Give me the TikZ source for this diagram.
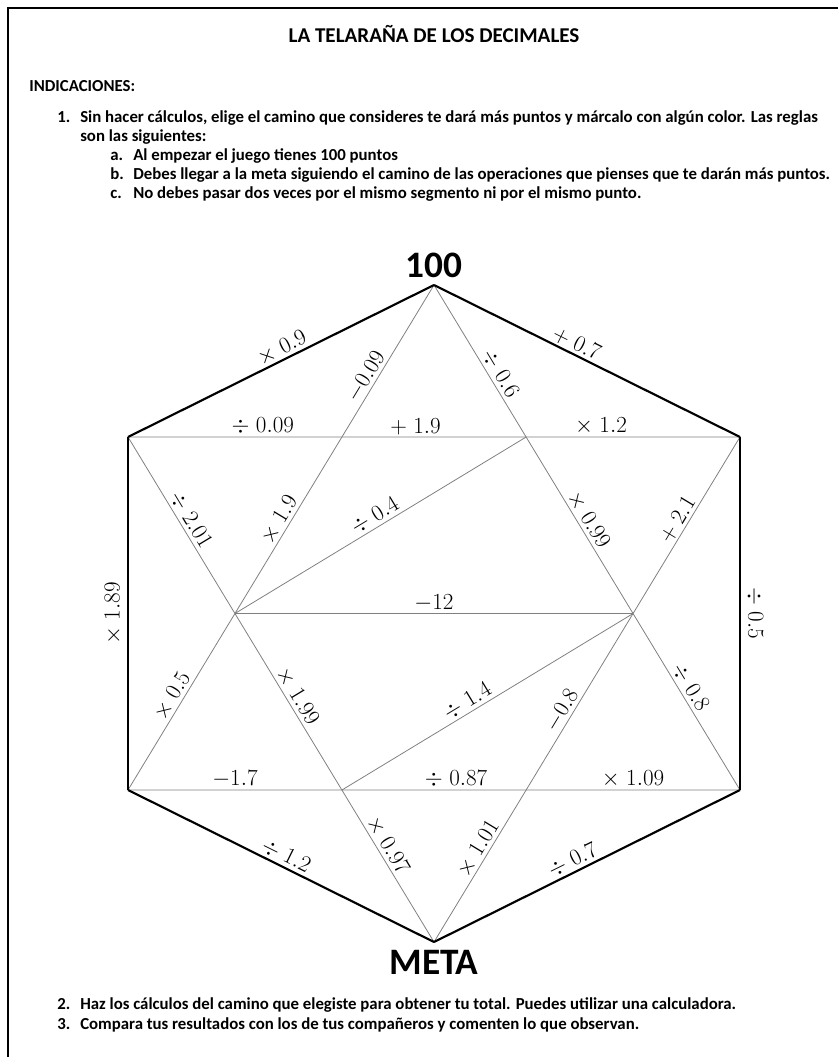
\documentclass[tikz,border=0pt]{standalone}
\usepackage{fontspec}
\newfontfamily\carlito{Carlito}
\tikzset{
  outer/.style={line width=1.6pt, black},
  web/.style={line width=0.6pt, black!50},
  op/.style={text=black, font=\fontsize{18}{20}\selectfont, inner sep=1.5pt},
  txt/.style={anchor=base west, inner sep=0pt, font=\carlito\bfseries\fontsize{12.6}{15}\selectfont},
  big/.style={font=\carlito\bfseries\fontsize{28}{30}\selectfont, inner sep=0pt},
}
\begin{document}
\begin{tikzpicture}[x=0.75pt, y=-0.75pt]
    \useasboundingbox (0,0) rectangle (838,1057);
    % page frame, only its top and left edges are in view
    \coordinate (fa) at (8,1057);
    \coordinate (fb) at (8,8);
    \coordinate (fc) at (838,8);
    \draw[line width=1.8pt] (fa) -- (fb) -- (fc);

    \node[font=\carlito\bfseries\fontsize{15.8}{18}\selectfont, anchor=base] (title) at (434,42) {LA TELARAÑA DE LOS DECIMALES};
    \node[txt] (ind) at (29,91) {INDICACIONES:};
    \node[txt] (n1) at (57,122) {1.};
    \node[txt] (t1) at (80,122) {Sin hacer cálculos, elige el camino que consideres te dará más puntos y márcalo con algún color. Las reglas};
    \node[txt] (t1b) at (80,141) {son las siguientes:};
    \node[txt] (na) at (110,160) {a.};
    \node[txt] (ta) at (133,160) {Al empezar el juego tienes 100 puntos};
    \node[txt] (nb) at (110,179) {b.};
    \node[txt] (tb) at (133,179) {Debes llegar a la meta siguiendo el camino de las operaciones que pienses que te darán más puntos.};
    \node[txt] (nc) at (110,198) {c.};
    \node[txt] (tc) at (133,198) {No debes pasar dos veces por el mismo segmento ni por el mismo punto.};

    % hexagon corners
    \coordinate (top) at (434,285);
    \coordinate (ul) at (128,437);
    \coordinate (ur) at (740,437);
    \coordinate (ll) at (128,790);
    \coordinate (lr) at (740,790);
    \coordinate (meta) at (434,942);
    % crossings of the star
    \coordinate (il) at (intersection of top--ll and ul--meta);
    \coordinate (ir) at (intersection of top--lr and ur--meta);
    \coordinate (cul) at (intersection of top--ll and ul--ur);
    \coordinate (cur) at (intersection of top--lr and ul--ur);
    \coordinate (cll) at (intersection of meta--ul and ll--lr);
    \coordinate (clr) at (intersection of meta--ur and ll--lr);

    \node[big, above=5pt] (start) at (top) {100};
    \node[big, below=6pt] (goal) at (meta) {META};

    % thin lines of the web
    \draw[web] (ul) -- node[op, above, pos=0.63] {$\div\;0.09$} (cul)
        -- node[op, above, pos=0.4] {$+\;1.9$} (cur)
        -- node[op, above, pos=0.35] {$\times\;1.2$} (ur);
    \draw[web] (il) -- node[op, above] {$-12$} (ir);
    \draw[web] (ll) -- node[op, above] {$-1.7$} (cll)
        -- node[op, above, pos=0.62] {$\div\;0.87$} (clr)
        -- node[op, above, pos=0.5] {$\times\;1.09$} (lr);
    \draw[web] (cul) -- node[op, sloped, above, pos=0.36] {$-0.09$} (top);
    \draw[web] (top) -- node[op, sloped, above, pos=0.62] {$\div\;0.6$} (cur);
    \draw[web] (ul) -- node[op, sloped, above] {$\div\;2.01$} (il);
    \draw[web] (il) -- node[op, sloped, above] {$\times\;1.9$} (cul);
    \draw[web] (il) -- node[op, sloped, above] {$\div\;0.4$} (cur);
    \draw[web] (cur) -- node[op, sloped, above] {$\times\;0.99$} (ir);
    \draw[web] (ir) -- node[op, sloped, above] {$+\;2.1$} (ur);
    \draw[web] (ll) -- node[op, sloped, above] {$\times\;0.5$} (il);
    \draw[web] (il) -- node[op, sloped, above] {$\times\;1.99$} (cll);
    \draw[web] (cll) -- node[op, sloped, above, pos=0.45] {$\div\;1.4$} (ir);
    \draw[web] (clr) -- node[op, sloped, above, pos=0.42] {$-0.8$} (ir);
    \draw[web] (ir) -- node[op, sloped, above, pos=0.45] {$\div\;0.8$} (lr);
    \draw[web] (cll) -- node[op, sloped, above, pos=0.4] {$\times\;0.97$} (meta);
    \draw[web] (meta) -- node[op, sloped, above, pos=0.58] {$\times\;1.01$} (clr);

    % outer edges
    \draw[outer] (ul) -- node[op, sloped, above, pos=0.52] {$\times\;0.9$} (top);
    \draw[outer] (top) -- node[op, sloped, above, pos=0.45] {$+\;0.7$} (ur);
    \draw[outer] (ll) -- node[op, rotate=90, anchor=south, inner sep=4pt] {$\times\;1.89$} (ul);
    \draw[outer] (ur) -- node[op, rotate=-90, anchor=south, inner sep=4pt] {$\div\;0.5$} (lr);
    \draw[outer] (ll) -- node[op, sloped, above, pos=0.5] {$\div\;1.2$} (meta);
    \draw[outer] (meta) -- node[op, sloped, above, pos=0.47] {$\div\;0.7$} (lr);

    \node[txt] (n2) at (57,1009) {2.};
    \node[txt] (t2) at (80,1009) {Haz los cálculos del camino que elegiste para obtener tu total. Puedes utilizar una calculadora.};
    \node[txt] (n3) at (57,1029) {3.};
    \node[txt] (t3) at (80,1029) {Compara tus resultados con los de tus compañeros y comenten lo que observan.};
\end{tikzpicture}
\end{document}
